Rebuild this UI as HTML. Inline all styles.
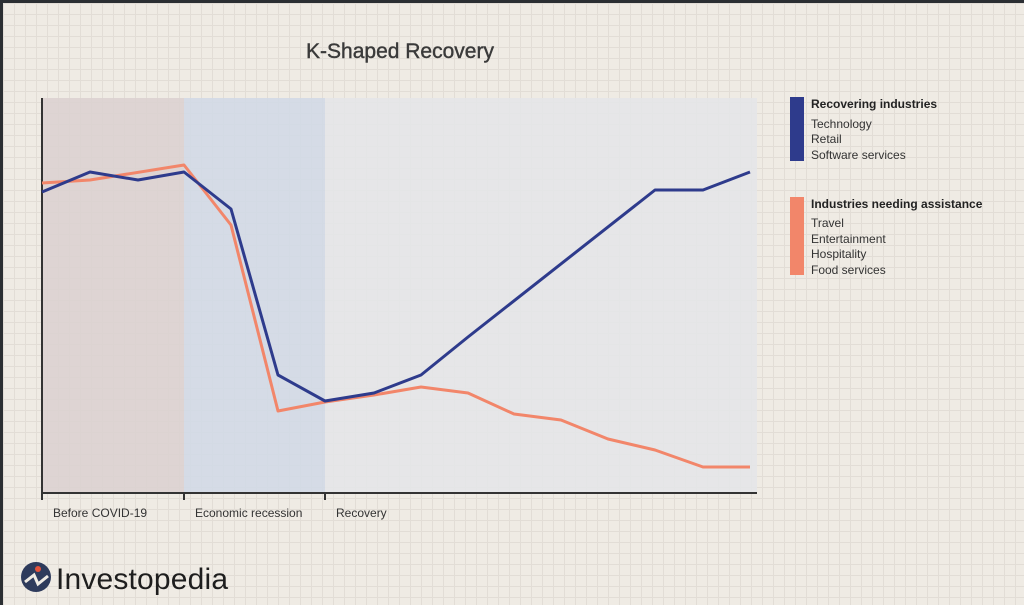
<!DOCTYPE html>
<html><head><style>
body{margin:0;width:1024px;height:605px;overflow:hidden;background:#2b2f33;}
#c{position:absolute;left:3px;top:3px;width:1021px;height:602px;background-color:#efebe4;
background-image:linear-gradient(#e2ddd6 1px,transparent 1px),linear-gradient(90deg,#e2ddd6 1px,transparent 1px);background-size:11px 11px;}
svg{position:absolute;left:0;top:0}
text{font-family:"Liberation Sans",sans-serif}
</style></head><body>
<div id="c"></div>
<svg width="1024" height="605">
<text x="400" y="58" font-size="21" fill="#3a3a3a" text-anchor="middle" stroke="#3a3a3a" stroke-width="0.4">K-Shaped Recovery</text>
<rect x="42" y="98" width="142" height="395" fill="#dbd2d0" opacity="0.9"/>
<rect x="184" y="98" width="141" height="395" fill="#d2d9e5" opacity="0.9"/>
<rect x="325" y="98" width="432" height="395" fill="#e4e5e8" opacity="0.9"/>
<line x1="42" y1="98" x2="42" y2="500" stroke="#333" stroke-width="2"/>
<line x1="42" y1="493" x2="757" y2="493" stroke="#333" stroke-width="2"/>
<line x1="184" y1="493" x2="184" y2="500" stroke="#333" stroke-width="2"/>
<line x1="325" y1="493" x2="325" y2="500" stroke="#333" stroke-width="2"/>
<g font-size="12" fill="#333">
<text x="53" y="517">Before COVID-19</text>
<text x="195" y="517">Economic recession</text>
<text x="336" y="517">Recovery</text>
</g>
<polyline fill="none" stroke="#f2866a" stroke-width="3" stroke-linejoin="round" points="42,183 90,180 184,165 231,225 278,411 325,402 374,395 421,387 468,393 514,414 561,420 608,439 655,450 703,467 750,467"/>
<polyline fill="none" stroke="#2e3b8c" stroke-width="3" stroke-linejoin="round" points="42,192 90,172 138,180 184,172 231,209 278,375 325,401 374,393 421,375 468,337 655,190 703,190 750,172"/>
<rect x="790" y="97" width="14" height="64" fill="#2e3b8c"/>
<rect x="790" y="197" width="14" height="78" fill="#f2866a"/>
<g font-size="12" fill="#333">
<text x="811" y="108" font-weight="bold" fill="#222">Recovering industries</text>
<text x="811" y="128">Technology</text>
<text x="811" y="143">Retail</text>
<text x="811" y="159">Software services</text>
<text x="811" y="208" font-weight="bold" fill="#222">Industries needing assistance</text>
<text x="811" y="227">Travel</text>
<text x="811" y="243">Entertainment</text>
<text x="811" y="258">Hospitality</text>
<text x="811" y="274">Food services</text>
</g>
<circle cx="36" cy="577" r="15" fill="#2e3b5c"/>
<circle cx="38" cy="569" r="3" fill="#e4523b"/>
<path d="M25 582 L34 575 L38 584 L48 576" stroke="#efebe4" stroke-width="3" fill="none"/>
<text x="56" y="589" font-size="30" fill="#1e1e1e" textLength="172">Investopedia</text>
</svg>
</body></html>
